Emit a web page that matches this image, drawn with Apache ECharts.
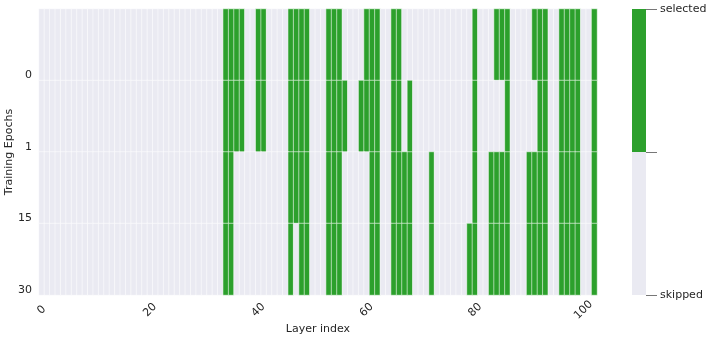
<!DOCTYPE html>
<html>
<head>
<meta charset="utf-8">
<script src="https://cdn.jsdelivr.net/npm/echarts@6/dist/echarts.min.js"></script>
<style>
html, body { margin: 0; padding: 0; background: #fff; }
#main { width: 712px; height: 342px; }
</style>
</head>
<body>
<div id="main"></div>
<script>
// training epochs (rows, top to bottom)
var epochs = ['0', '1', '15', '30'];
var layerCount = 103;

// layers selected at each epoch
var selected0 = [34, 35, 36, 37, 40, 41, 46, 47, 48, 49, 53, 54, 55, 60, 61, 62, 65, 66, 80, 84, 85, 86, 91, 92, 93, 96, 97, 98, 99, 102];
var selected1 = [34, 35, 36, 37, 40, 41, 46, 47, 48, 49, 53, 54, 55, 56, 59, 60, 61, 62, 65, 66, 68, 80, 86, 92, 93, 96, 97, 98, 99, 102];
var selected15 = [34, 35, 46, 47, 48, 49, 53, 54, 55, 61, 62, 65, 66, 67, 68, 72, 80, 83, 84, 85, 86, 90, 91, 92, 93, 96, 97, 98, 99, 102];
var selected30 = [34, 35, 46, 48, 49, 53, 54, 55, 61, 62, 65, 66, 67, 68, 72, 79, 80, 83, 84, 85, 86, 90, 91, 92, 93, 96, 97, 98, 99, 102];

var colorbarTicks = {0: 'skipped', 1: 'selected'};

var layers = [];
for (var i = 0; i < layerCount; i++) layers.push(String(i));

var rows = [selected0, selected1, selected15, selected30];
var cells = [];
rows.forEach(function (sel, r) {
    for (var i = 0; i < layerCount; i++) {
        cells.push([i, r, sel.indexOf(i) >= 0 ? 1 : 0]);
    }
});

var green = '#2ca02c';
var grey = '#eaeaf2';
var textColor = '#262626';
var font = 'DejaVu Sans';

var chart = echarts.init(document.getElementById('main'));
var option = {
    animation: false,
    textStyle: {fontFamily: font},
    grid: [
        {left: 39, top: 9, width: 558, height: 286, outerBoundsMode: 'none', containLabel: false},
        {left: 632, top: 9, width: 14, height: 286, outerBoundsMode: 'none', containLabel: false}
    ],
    xAxis: [
        {
            type: 'category',
            data: layers,
            gridIndex: 0,
            name: 'Layer index',
            nameLocation: 'middle',
            nameGap: 29,
            nameMoveOverlap: false,
            nameTextStyle: {color: textColor, fontSize: 11, fontFamily: font},
            axisLine: {show: false},
            axisTick: {show: false},
            splitLine: {show: false},
            axisLabel: {
                interval: 19,
                rotate: 45,
                align: 'center',
                verticalAlign: 'middle',
                margin: 15,
                color: textColor,
                fontSize: 11,
                fontFamily: font
            }
        },
        {
            type: 'category',
            data: ['c'],
            gridIndex: 1,
            show: false
        }
    ],
    yAxis: [
        {
            type: 'category',
            data: epochs,
            gridIndex: 0,
            inverse: true,
            name: 'Training Epochs',
            nameLocation: 'middle',
            nameGap: 24,
            nameMoveOverlap: false,
            nameTextStyle: {color: textColor, fontSize: 11, fontFamily: font},
            axisLine: {show: false},
            axisTick: {show: false},
            splitLine: {show: false},
            axisLabel: {
                margin: 7,
                color: textColor,
                fontSize: 11,
                fontFamily: font,
                verticalAlign: 'top',
                lineHeight: 61
            }
        },
        {
            type: 'value',
            gridIndex: 1,
            min: 0,
            max: 1,
            interval: 0.5,
            position: 'right',
            axisLine: {show: false},
            splitLine: {show: false},
            axisTick: {show: true, length: 11, lineStyle: {color: '#777', width: 1}},
            axisLabel: {
                margin: 14,
                color: textColor,
                fontSize: 11,
                fontFamily: font,
                formatter: function (v) { return colorbarTicks[v] || ''; }
            }
        }
    ],
    visualMap: {
        show: false,
        type: 'piecewise',
        seriesIndex: 0,
        pieces: [
            {value: 0, color: grey},
            {value: 1, color: green}
        ]
    },
    series: [
        {
            type: 'heatmap',
            xAxisIndex: 0,
            yAxisIndex: 0,
            data: cells,
            itemStyle: {borderColor: 'rgba(255,255,255,0.9)', borderWidth: 0.6}
        },
        {
            type: 'bar',
            xAxisIndex: 1,
            yAxisIndex: 1,
            stack: 'cb',
            barWidth: '100%',
            data: [0.5],
            itemStyle: {color: grey}
        },
        {
            type: 'bar',
            xAxisIndex: 1,
            yAxisIndex: 1,
            stack: 'cb',
            barWidth: '100%',
            data: [0.5],
            itemStyle: {color: green}
        }
    ]
};
chart.setOption(option);
</script>
</body>
</html>
